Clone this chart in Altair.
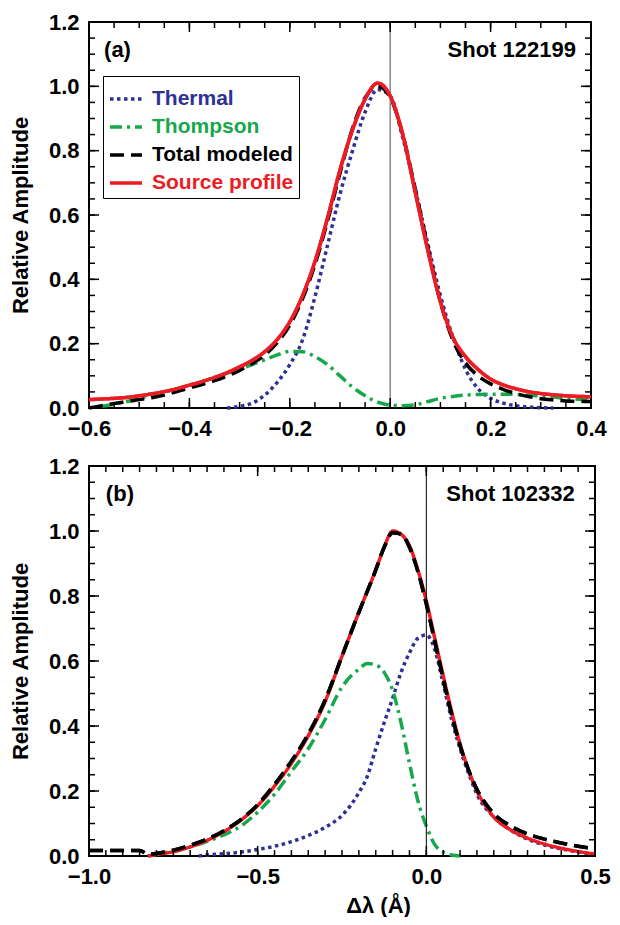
import altair as alt
import pandas as pd

FONT = "Liberation Sans"
SERIES = ["Thermal", "Thompson", "Total modeled", "Source profile"]
COLORS = ["#2e3192", "#17a84b", "#000000", "#ec1c24"]
DASHES = [[3.5, 3.5], [12, 5, 3, 5], [14, 7], [1, 0]]

# ---------------- Panel (a), shot 122199 ----------------
a_thermal_x = [-0.325, -0.3, -0.275, -0.25, -0.225, -0.2, -0.175, -0.15, -0.125, -0.1, -0.075, -0.05, -0.025,
               0.0, 0.025, 0.05, 0.075, 0.1, 0.125, 0.15, 0.175, 0.2, 0.225, 0.25, 0.275, 0.3, 0.325]
a_thermal_y = [0.0, 0.005, 0.015, 0.04, 0.08, 0.135, 0.21, 0.345, 0.505, 0.665, 0.80, 0.92, 0.99,
               0.97, 0.84, 0.68, 0.51, 0.35, 0.22, 0.12, 0.06, 0.03, 0.015, 0.007, 0.003, 0.001, 0.0]

a_thompson_x = [-0.575, -0.55, -0.525, -0.5, -0.475, -0.45, -0.425, -0.4, -0.375, -0.35,
                -0.325, -0.3, -0.275, -0.25, -0.225, -0.2, -0.175, -0.15, -0.125, -0.1,
                -0.075, -0.05, -0.025, 0.0, 0.025, 0.05, 0.075, 0.1, 0.125, 0.15,
                0.175, 0.2, 0.225, 0.25, 0.275, 0.3, 0.325, 0.35, 0.375, 0.4]
a_thompson_y = [0.005, 0.012, 0.02, 0.03, 0.04, 0.05, 0.06, 0.07, 0.082, 0.095,
                0.108, 0.121, 0.135, 0.15, 0.165, 0.176, 0.175, 0.16, 0.135, 0.10,
                0.065, 0.038, 0.018, 0.009, 0.007, 0.01, 0.02, 0.03, 0.036, 0.04,
                0.042, 0.043, 0.043, 0.042, 0.04, 0.037, 0.034, 0.03, 0.027, 0.024]

a_total_x = [-0.6, -0.575, -0.55, -0.525, -0.5, -0.475, -0.45, -0.425, -0.4, -0.375,
             -0.35, -0.325, -0.3, -0.275, -0.25, -0.225, -0.2, -0.175, -0.15, -0.125,
             -0.1, -0.075, -0.05, -0.025, 0.0, 0.025, 0.05, 0.075, 0.1, 0.125,
             0.15, 0.175, 0.2, 0.225, 0.25, 0.275, 0.3, 0.325, 0.35, 0.375, 0.4]
a_total_y = [0.0, 0.007, 0.014, 0.02, 0.026, 0.032, 0.04, 0.051, 0.062, 0.073,
             0.085, 0.099, 0.117, 0.138, 0.165, 0.203, 0.258, 0.338, 0.445, 0.58,
             0.73, 0.87, 0.965, 1.0, 0.965, 0.85, 0.68, 0.50, 0.33, 0.21,
             0.14, 0.10, 0.075, 0.058, 0.045, 0.036, 0.029, 0.025, 0.022, 0.021, 0.020]

a_source_x = a_total_x
a_source_y = [0.026, 0.028, 0.03, 0.033, 0.038, 0.044, 0.051, 0.06, 0.071, 0.082,
              0.095, 0.11, 0.128, 0.148, 0.175, 0.213, 0.268, 0.348, 0.455, 0.59,
              0.74, 0.865, 0.96, 1.01, 0.97, 0.85, 0.67, 0.49, 0.33, 0.22,
              0.16, 0.12, 0.09, 0.072, 0.06, 0.051, 0.045, 0.041, 0.038, 0.036, 0.035]

# ---------------- Panel (b), shot 102332 ----------------
b_thermal_x = [-0.675, -0.65, -0.6, -0.55, -0.5, -0.45, -0.4, -0.35, -0.3, -0.25, -0.225, -0.2, -0.175,
               -0.15, -0.125, -0.1, -0.075, -0.05, -0.025, 0.0, 0.025, 0.05, 0.075, 0.1, 0.125, 0.15,
               0.2, 0.25, 0.3, 0.35, 0.4, 0.45, 0.5]
b_thermal_y = [0.0, 0.003, 0.007, 0.012, 0.02, 0.03, 0.044, 0.063, 0.088, 0.125, 0.155, 0.195, 0.245,
               0.33, 0.41, 0.485, 0.565, 0.625, 0.67, 0.68, 0.635, 0.53, 0.42, 0.33, 0.255, 0.19,
               0.12, 0.08, 0.052, 0.034, 0.022, 0.012, 0.005]

b_thompson_x = [-0.825, -0.8, -0.75, -0.7, -0.65, -0.6, -0.55, -0.5, -0.45, -0.4, -0.35, -0.3, -0.25,
                -0.2, -0.175, -0.15, -0.125, -0.1, -0.075, -0.05, -0.025, 0.0, 0.025, 0.05, 0.075, 0.1]
b_thompson_y = [0.0, 0.005, 0.015, 0.028, 0.045, 0.065, 0.092, 0.135, 0.19, 0.26, 0.33, 0.42, 0.52,
                0.575, 0.592, 0.588, 0.565, 0.51, 0.41, 0.285, 0.17, 0.092, 0.035, 0.012, 0.003, 0.0]

b_total_x = [-1.0, -0.95, -0.9, -0.85, -0.825, -0.8, -0.75, -0.7, -0.65, -0.6, -0.55, -0.5, -0.45,
             -0.4, -0.35, -0.3, -0.25, -0.2, -0.15, -0.125, -0.1, -0.075, -0.05, -0.025, 0.0, 0.025,
             0.05, 0.075, 0.1, 0.125, 0.15, 0.175, 0.2, 0.25, 0.3, 0.35, 0.4, 0.45, 0.5]
b_total_y = [0.017, 0.017, 0.017, 0.017, 0.006, 0.008, 0.018, 0.033, 0.052, 0.078, 0.112, 0.158, 0.22,
             0.292, 0.375, 0.48, 0.615, 0.75, 0.88, 0.95, 0.995, 0.99, 0.95, 0.875, 0.775, 0.66,
             0.545, 0.435, 0.34, 0.265, 0.205, 0.162, 0.13, 0.092, 0.068, 0.052, 0.04, 0.03, 0.022]

b_source_x = [-0.825, -0.8, -0.75, -0.7, -0.65, -0.6, -0.55, -0.5, -0.45, -0.4, -0.35, -0.3, -0.25,
              -0.2, -0.15, -0.125, -0.1, -0.075, -0.05, -0.025, 0.0, 0.025, 0.05, 0.075, 0.1, 0.125,
              0.15, 0.175, 0.2, 0.25, 0.3, 0.35, 0.4, 0.45, 0.5]
b_source_y = [0.0, 0.005, 0.013, 0.028, 0.048, 0.075, 0.11, 0.155, 0.215, 0.285, 0.37, 0.475, 0.615,
              0.75, 0.88, 0.95, 1.0, 0.99, 0.955, 0.88, 0.785, 0.67, 0.555, 0.445, 0.345, 0.265,
              0.2, 0.155, 0.12, 0.08, 0.055, 0.037, 0.024, 0.014, 0.006]

# axis ticks / labels
a_x_domain = [-0.6, 0.4]
a_x_major = [-0.6, -0.4, -0.2, 0.0, 0.2, 0.4]
b_x_domain = [-1.0, 0.5]
b_x_major = [-1.0, -0.5, 0.0, 0.5]
y_domain = [0.0, 1.2]
y_major = [0.0, 0.2, 0.4, 0.6, 0.8, 1.0, 1.2]
a_x_minor = [round(-0.6 + 0.05 * i, 2) for i in range(21)]
b_x_minor = [round(-1.0 + 0.05 * i, 2) for i in range(31)]
y_minor = [round(0.05 * i, 2) for i in range(25)]

panel_labels = ["(a)", "(b)"]
shot_labels = ["Shot 122199", "Shot 102332"]
panel_label_pos = [(-0.57, 1.112), (-0.95, 1.115)]
shot_label_pos = [(0.37, 1.112), (0.44, 1.115)]
zero_line = [0.0]

MAJOR_LEN, MINOR_LEN = 10, 6


def long_df(pairs):
    rows = []
    for name, xs, ys in pairs:
        for x, y in zip(xs, ys):
            rows.append({"x": x, "y": y, "series": name})
    return pd.DataFrame(rows)


label_expr = " : ".join(
    [f"datum.value === '{s}' ? '{c}'" for s, c in zip(SERIES, COLORS)] + ["'black'"]
)
NBSP = "\u00a0"


def make_panel(df, top_series, xdom, xmajor, xminor, widths, idx, rule_color, rule_width,
               x_title, W, H, title_shift):
    xs = alt.Scale(domain=xdom, nice=False, zero=False)
    ys = alt.Scale(domain=y_domain, nice=False, zero=False)

    legend = alt.Legend(
        title=None, orient="none", legendX=14, legendY=54, direction="vertical",
        fillColor="white", strokeColor="black", padding=5, rowPadding=0,
        symbolType="stroke", symbolSize=1024, symbolStrokeWidth=3,
        labelFont=FONT, labelFontSize=21, labelFontWeight="bold", labelOffset=8,
        labelLimit=400, labelColor={"expr": label_expr},
        labelExpr="datum.label + '" + NBSP * 3 + "'",
    )

    x_lab = alt.Axis(values=xmajor, format=".1f", ticks=False, domain=False, grid=False,
                     labelFont=FONT, labelFontSize=22, labelFontWeight="bold", labelColor="black",
                     labelPadding=10, labelFlush=False, labelOverlap=False,
                     title=x_title, titleFont=FONT, titleFontSize=22, titleFontWeight="bold",
                     titleColor="black", titlePadding=8, titleX=W / 2 + title_shift, orient="bottom")
    y_lab = alt.Axis(values=y_major, format=".1f", ticks=False, domain=False, grid=False,
                     labelFont=FONT, labelFontSize=22, labelFontWeight="bold", labelColor="black",
                     labelPadding=10, labelFlush=False, labelOverlap=False,
                     title="Relative Amplitude", titleFont=FONT, titleFontSize=22,
                     titleFontWeight="bold", titleColor="black", titlePadding=16, orient="left")

    def enc(xaxis, yaxis):
        return dict(
            x=alt.X("x:Q", scale=xs, axis=xaxis),
            y=alt.Y("y:Q", scale=ys, axis=yaxis),
            color=alt.Color("series:N", scale=alt.Scale(domain=SERIES, range=COLORS), legend=legend),
            strokeDash=alt.StrokeDash("series:N", scale=alt.Scale(domain=SERIES, range=DASHES), legend=legend),
            strokeWidth=alt.StrokeWidth("series:N", scale=alt.Scale(domain=SERIES, range=widths), legend=None),
        )

    rule = alt.Chart(pd.DataFrame({"x": zero_line})).mark_rule(
        color=rule_color, strokeWidth=rule_width
    ).encode(x=alt.X("x:Q", scale=xs, axis=None))

    lines = alt.Chart(df).mark_line(interpolate="monotone").encode(**enc(x_lab, y_lab))
    top = alt.Chart(df[df.series == top_series]).mark_line(interpolate="monotone").encode(**enc(None, None))

    # inward-pointing ticks on all four sides of the frame
    def xticks(vals, length, at_top):
        y0 = 0 if at_top else H
        y1 = length if at_top else H - length
        return alt.Chart(pd.DataFrame({"x": vals})).mark_rule(color="black", strokeWidth=1.5).encode(
            x=alt.X("x:Q", scale=xs, axis=None), y=alt.value(y0), y2=alt.value(y1))

    def yticks(vals, length, at_right):
        x0 = W if at_right else 0
        x1 = W - length if at_right else length
        return alt.Chart(pd.DataFrame({"y": vals})).mark_rule(color="black", strokeWidth=1.5).encode(
            y=alt.Y("y:Q", scale=ys, axis=None), x=alt.value(x0), x2=alt.value(x1))

    ticks = [
        xticks(xmajor, MAJOR_LEN, False), xticks(xminor, MINOR_LEN, False),
        xticks(xmajor, MAJOR_LEN, True), xticks(xminor, MINOR_LEN, True),
        yticks(y_major, MAJOR_LEN, False), yticks(y_minor, MINOR_LEN, False),
        yticks(y_major, MAJOR_LEN, True), yticks(y_minor, MINOR_LEN, True),
    ]

    px, py = panel_label_pos[idx]
    sx, sy = shot_label_pos[idx]
    t1 = alt.Chart(pd.DataFrame({"x": [px], "y": [py], "t": [panel_labels[idx]]})).mark_text(
        align="left", baseline="middle", font=FONT, fontSize=22, fontWeight="bold", color="black"
    ).encode(x=alt.X("x:Q", scale=xs, axis=None), y=alt.Y("y:Q", scale=ys, axis=None), text="t:N")
    t2 = alt.Chart(pd.DataFrame({"x": [sx], "y": [sy], "t": [shot_labels[idx]]})).mark_text(
        align="right", baseline="middle", font=FONT, fontSize=22, fontWeight="bold", color="black"
    ).encode(x=alt.X("x:Q", scale=xs, axis=None), y=alt.Y("y:Q", scale=ys, axis=None), text="t:N")

    return alt.layer(lines, rule, *ticks, top, t1, t2).resolve_axis(
        x="independent", y="independent").properties(width=W, height=H)


df_a = long_df([("Thermal", a_thermal_x, a_thermal_y), ("Thompson", a_thompson_x, a_thompson_y),
                ("Total modeled", a_total_x, a_total_y), ("Source profile", a_source_x, a_source_y)])
df_b = long_df([("Thermal", b_thermal_x, b_thermal_y), ("Thompson", b_thompson_x, b_thompson_y),
                ("Source profile", b_source_x, b_source_y), ("Total modeled", b_total_x, b_total_y)])

panel_a = make_panel(df_a, "Source profile", a_x_domain, a_x_major, a_x_minor, [3.5, 3.5, 3.5, 2.5], 0,
                     "#888888", 1.5, None, 502, 386, 0)
panel_b = make_panel(df_b, "Total modeled", b_x_domain, b_x_major, b_x_minor, [3.5, 3.5, 3.5, 1.5], 1,
                     "#000000", 1.0, "Δλ (Å)", 506, 390, 36)

chart = alt.vconcat(panel_a, panel_b, spacing=14).properties(
    padding={"left": 0, "top": 2, "right": 0, "bottom": 0}
).configure_view(stroke="black", strokeWidth=2)

chart.save("out.html", embed_options={"renderer": "svg", "actions": False})
